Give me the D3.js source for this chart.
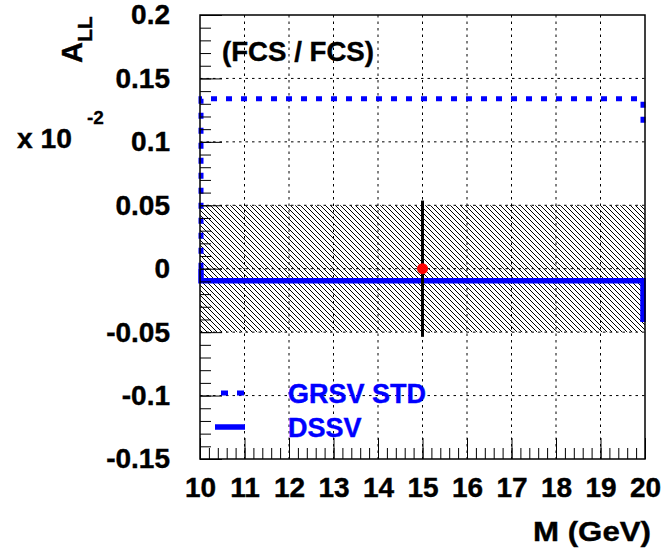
<!DOCTYPE html>
<html>
<head>
<meta charset="utf-8">
<script src="https://cdn.jsdelivr.net/npm/d3@7"></script>
<style>
  body { margin: 0; background: #fff; }
  text { font-family: "Liberation Sans", Arial, sans-serif; font-weight: bold; }
</style>
</head>
<body>
<script>
// histogram edges and contents (one bin from 10 to 20 GeV)
var binEdges = [10, 20];
var grsvStd = [0.134];
var dssv = [-0.0095];
// where the right edge of each histogram outline stops
var grsvEdgeEnd = [0.11];
var dssvEdgeEnd = [-0.042];

// projected point and its error
var massPoint = [15];
var allPoint = [0];
var allErr = [0.0537];

// hatched uncertainty band
var bandLow = [-0.05];
var bandHigh = [0.05];

var xTicks = [10, 11, 12, 13, 14, 15, 16, 17, 18, 19, 20];
var yTicks = [-0.15, -0.1, -0.05, 0, 0.05, 0.1, 0.15, 0.2];

d3.select("body").append("svg")
  .attr("width", 666)
  .attr("height", 549);

var svg = d3.select("svg");

var frame = { left: 200, right: 645, top: 15, bottom: 459 };

var xScale = d3.scaleLinear().domain([10, 20]).range([frame.left, frame.right]);
var yScale = d3.scaleLinear().domain([-0.15, 0.2]).range([frame.bottom, frame.top]);

// hatch: 1px diagonal lines every 5px along x, going down to the right
var defs = svg.append("defs");
var pat = defs.append("pattern")
  .attr("id", "hatch")
  .attr("patternUnits", "userSpaceOnUse")
  .attr("width", 5)
  .attr("height", 5);
pat.append("path")
  .attr("d", "M-1,-1L6,6M-6,-1L1,6M4,-1L11,6")
  .attr("stroke", "#000")
  .attr("stroke-width", 1)
  .attr("shape-rendering", "crispEdges");

// grid
var gridX = xTicks.filter(function(d) { return d > 10 && d < 20; });
var gridY = yTicks.filter(function(d) { return d > -0.15 && d < 0.2; });

svg.append("g").selectAll("line").data(gridX).enter().append("line")
  .attr("x1", function(d) { return xScale(d); })
  .attr("x2", function(d) { return xScale(d); })
  .attr("y1", frame.top)
  .attr("y2", frame.bottom)
  .attr("stroke", "#000")
  .attr("stroke-width", 1)
  .attr("stroke-dasharray", "2.5,4");

svg.append("g").selectAll("line").data(gridY).enter().append("line")
  .attr("x1", frame.left)
  .attr("x2", frame.right)
  .attr("y1", function(d) { return yScale(d); })
  .attr("y2", function(d) { return yScale(d); })
  .attr("stroke", "#000")
  .attr("stroke-width", 1)
  .attr("stroke-dasharray", "2.5,4");

// band
svg.append("rect")
  .attr("x", xScale(binEdges[0]))
  .attr("y", yScale(bandHigh[0]))
  .attr("width", xScale(binEdges[1]) - xScale(binEdges[0]))
  .attr("height", yScale(bandLow[0]) - yScale(bandHigh[0]))
  .attr("fill", "url(#hatch)");

// histogram outlines
function histPath(val, endVal) {
  var p = d3.path();
  p.moveTo(xScale(binEdges[0]) + 1, yScale(0));
  p.lineTo(xScale(binEdges[0]) + 1, yScale(val));
  p.lineTo(xScale(binEdges[1]) - 2, yScale(val));
  p.lineTo(xScale(binEdges[1]) - 2, yScale(endVal));
  return p.toString();
}

svg.append("path")
  .attr("d", histPath(grsvStd[0], grsvEdgeEnd[0]))
  .attr("fill", "none")
  .attr("stroke", "#0000ff")
  .attr("stroke-width", 5)
  .attr("stroke-dasharray", "6,9");

svg.append("path")
  .attr("d", histPath(dssv[0], dssvEdgeEnd[0]))
  .attr("fill", "none")
  .attr("stroke", "#0000ff")
  .attr("stroke-width", 5.5);

// data point
svg.append("g").selectAll("line").data(massPoint).enter().append("line")
  .attr("x1", function(d) { return xScale(d); })
  .attr("x2", function(d) { return xScale(d); })
  .attr("y1", function(d, i) { return yScale(allPoint[i] + allErr[i]); })
  .attr("y2", function(d, i) { return yScale(allPoint[i] - allErr[i]); })
  .attr("stroke", "#000")
  .attr("stroke-width", 3);

svg.append("g").selectAll("circle").data(massPoint).enter().append("circle")
  .attr("cx", function(d) { return xScale(d); })
  .attr("cy", function(d, i) { return yScale(allPoint[i]); })
  .attr("r", 5.5)
  .attr("fill", "#ff0000");

// axes
var fmt = function(d) { return String(+d.toFixed(2)); };

svg.append("g")
  .attr("transform", "translate(" + frame.left + ",0)")
  .call(d3.axisLeft(yScale).tickValues(yTicks).tickSize(-22).tickPadding(30).tickFormat(fmt));
svg.append("g")
  .attr("transform", "translate(" + frame.left + ",0)")
  .call(d3.axisLeft(yScale).tickValues(d3.range(-15, 21).map(function(d) { return d / 100; }))
    .tickSize(-11).tickFormat(""));

svg.append("g")
  .attr("transform", "translate(0," + frame.bottom + ")")
  .call(d3.axisBottom(xScale).tickValues(xTicks).tickSize(-21).tickPadding(18).tickFormat(d3.format("d")));
svg.append("g")
  .attr("transform", "translate(0," + frame.bottom + ")")
  .call(d3.axisBottom(xScale).tickValues(d3.range(50, 101).map(function(d) { return d / 5; }))
    .tickSize(-11).tickFormat(""));

svg.selectAll(".domain").remove();
svg.selectAll(".tick line").attr("stroke", "#000").attr("stroke-width", 1);
svg.selectAll(".tick text")
  .attr("fill", "#000")
  .attr("stroke", "#000")
  .attr("stroke-width", 0.4)
  .style("font-size", "28px")
  .style("font-family", "Liberation Sans, Arial, sans-serif")
  .style("font-weight", "bold");

// frame
svg.append("rect")
  .attr("x", frame.left)
  .attr("y", frame.top)
  .attr("width", frame.right - frame.left)
  .attr("height", frame.bottom - frame.top)
  .attr("fill", "none")
  .attr("stroke", "#000")
  .attr("stroke-width", 1.5);

// titles
svg.append("text")
  .attr("x", 222)
  .attr("y", 61)
  .attr("stroke", "#000")
  .attr("stroke-width", 0.4)
  .style("font-size", "27px")
  .attr("textLength", 152)
  .attr("lengthAdjust", "spacingAndGlyphs")
  .text("(FCS / FCS)");

svg.append("text")
  .attr("x", 533)
  .attr("y", 541)
  .attr("stroke", "#000")
  .attr("stroke-width", 0.4)
  .style("font-size", "28px")
  .attr("textLength", 118)
  .attr("lengthAdjust", "spacingAndGlyphs")
  .text("M (GeV)");

var yTitle = svg.append("text")
  .attr("transform", "translate(82,63) rotate(-90)")
  .attr("stroke", "#000")
  .attr("stroke-width", 0.4)
  .style("font-size", "29px");
yTitle.append("tspan").text("A");
yTitle.append("tspan").attr("dy", 10).style("font-size", "21px").text("LL");

svg.append("text")
  .attr("x", 17)
  .attr("y", 148)
  .attr("stroke", "#000")
  .attr("stroke-width", 0.4)
  .style("font-size", "28px")
  .attr("textLength", 55)
  .attr("lengthAdjust", "spacingAndGlyphs")
  .text("x 10");
svg.append("text")
  .attr("x", 87)
  .attr("y", 124)
  .attr("stroke", "#000")
  .attr("stroke-width", 0.3)
  .style("font-size", "19px")
  .text("-2");

// legend
var legendNames = ["GRSV STD", "DSSV"];
var legendY = [393, 427];
var legend = svg.append("g");
legend.append("line")
  .attr("x1", 221).attr("x2", 245)
  .attr("y1", legendY[0]).attr("y2", legendY[0])
  .attr("stroke", "#0000ff")
  .attr("stroke-width", 5)
  .attr("stroke-dasharray", "7,9");
legend.append("line")
  .attr("x1", 215).attr("x2", 245)
  .attr("y1", legendY[1]).attr("y2", legendY[1])
  .attr("stroke", "#0000ff")
  .attr("stroke-width", 5.5);
legend.selectAll("text").data(legendNames).enter().append("text")
  .attr("x", 288)
  .attr("y", function(d, i) { return legendY[i] + 10; })
  .attr("fill", "#0000ff")
  .attr("stroke", "#0000ff")
  .attr("stroke-width", 0.4)
  .style("font-size", "27px")
  .text(function(d) { return d; });
</script>
</body>
</html>
